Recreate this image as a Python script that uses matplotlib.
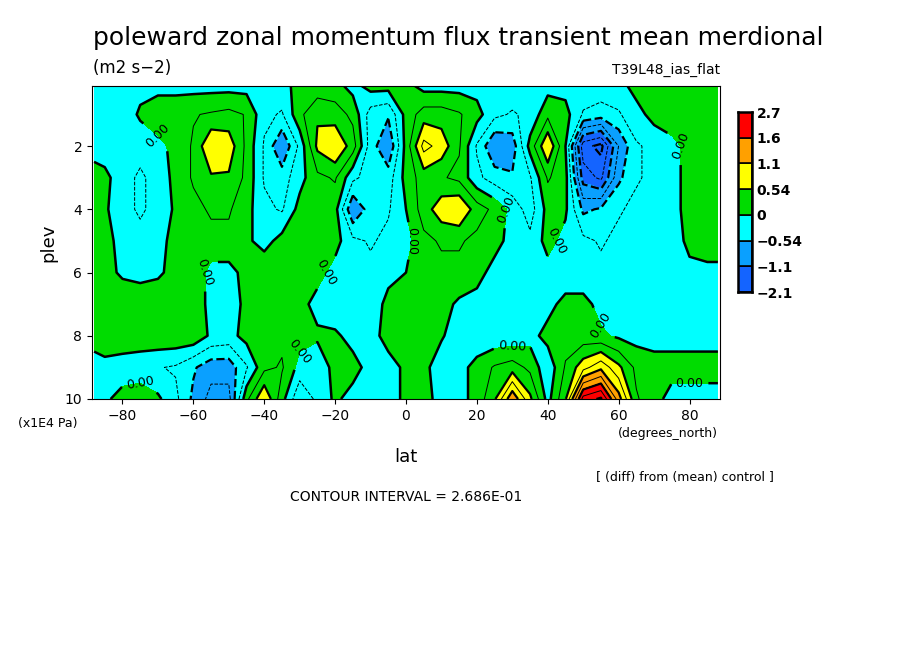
import numpy as np
import matplotlib
matplotlib.use("Agg")
import matplotlib.pyplot as plt

lats = [-88] + list(range(-85, 90, 5)) + [88]
plevs = [0.1, 1, 2, 3, 4, 5, 6, 7, 8, 9, 10]
r01 = [-0.1,-0.1,-0.1,-0.1,-0.1,-0.1,-0.1,-0.1,-0.1,-0.1,-0.1,-0.1,0.1,0.1,0.1,-0.1,0.1,0.1,0.1,
       -0.1,-0.1,-0.1,-0.1,-0.1,-0.1,-0.1,-0.1,-0.1,-0.1,-0.1,-0.1,0.1,0.1,0.1,0.1,0.1,0.1]
r1 = [-0.2,-0.2,-0.2,0.05,0.2,0.2,0.25,0.3,0.35,0.25,-0.2,-0.3,0.2,0.5,0.4,0.2,-0.4,-0.5,0.1,
      0.4,0.4,0.3,0.1,-0.2,-0.3,-0.2,0.2,0.1,-0.3,-0.4,-0.3,-0.1,0.1,0.2,0.2,0.2,0.2]
r2 = [-0.1,-0.2,-0.2,-0.2,-0.1,0.1,0.3,0.8,0.7,0.2,-0.3,-0.8,-0.2,0.6,0.8,0.4,-0.4,-0.8,0.1,
      0.9,0.7,0.3,-0.3,-0.8,-0.7,0.1,0.8,0.0,-1.5,-1.7,-0.8,-0.3,-0.2,-0.1,0.1,0.2,0.2]
r3 = [0.1,0.1,-0.2,-0.3,-0.2,0.1,0.3,0.5,0.5,0.2,-0.3,-0.4,-0.1,0.2,0.3,-0.2,-0.4,-0.4,0.1,
      0.4,0.3,0.2,-0.2,-0.4,-0.5,-0.3,0.3,0.1,-1.2,-1.4,-0.6,-0.3,-0.2,-0.1,0.1,0.1,0.1]
r4 = [0.1,0.05,-0.2,-0.3,-0.2,0.05,0.2,0.3,0.3,0.1,-0.2,-0.3,0.1,0.2,0.1,-0.8,-0.4,-0.3,0.0,
      0.4,0.7,0.8,0.4,0.2,-0.1,-0.4,0.1,0.05,-0.6,-0.5,-0.3,-0.2,-0.1,-0.1,0.1,0.1,0.1]
r5 = [0.1,0.1,-0.1,-0.2,-0.1,0.1,0.2,0.2,0.2,0.05,-0.1,0.1,0.2,0.2,0.1,-0.2,-0.3,-0.2,-0.1,
      0.2,0.3,0.3,0.2,0.1,-0.1,-0.2,0.1,-0.1,-0.2,-0.3,-0.2,-0.2,-0.1,-0.1,0.05,0.1,0.1]
r6 = [0.1,0.1,-0.05,-0.1,-0.05,0.1,0.2,-0.1,-0.1,0.1,0.2,0.2,0.2,0.1,-0.1,-0.2,-0.2,-0.1,0.0,
      0.1,0.2,0.2,0.1,-0.1,-0.2,-0.2,-0.1,-0.2,-0.2,-0.2,-0.2,-0.2,-0.2,-0.2,-0.05,-0.05,-0.05]
r7 = [0.1,0.2,0.2,0.2,0.2,0.2,0.2,-0.1,-0.2,0.1,0.2,0.2,0.1,-0.1,-0.2,-0.2,-0.2,0.1,0.05,
      0.05,0.1,-0.05,-0.1,-0.2,-0.2,-0.2,-0.1,0.1,0.1,-0.1,-0.2,-0.2,-0.2,-0.2,-0.2,-0.2,-0.2]
r8 = [0.1,0.2,0.2,0.2,0.2,0.2,0.2,-0.05,-0.1,0.1,0.2,0.2,0.1,0.05,0.05,-0.1,-0.1,0.1,0.1,
      0.05,0.02,-0.1,-0.2,-0.2,-0.2,-0.1,0.1,0.15,0.1,0.05,-0.05,-0.1,-0.1,-0.1,-0.1,-0.1,-0.1]
r9 = [-0.1,-0.1,-0.15,-0.2,-0.25,-0.3,-0.5,-0.7,-0.7,-0.3,0.2,0.3,-0.1,-0.2,0.1,0.1,-0.1,-0.1,0.05,
      0.05,-0.1,-0.1,0.1,0.3,0.4,0.2,-0.2,0.3,0.7,1.0,0.6,0.2,0.1,0.1,0.1,0.1,0.1]
r10 = [-0.1,-0.05,0.1,0.2,0.05,-0.2,-0.6,-0.9,-0.9,0.2,0.8,0.1,-0.5,-0.2,0.05,-0.1,-0.1,-0.1,0.05,
       0.1,-0.1,-0.1,0.1,0.5,1.3,0.6,-0.1,0.5,2.0,2.2,1.2,0.3,0.1,-0.1,-0.1,-0.1,-0.1]
data = np.array([r01, r1, r2, r3, r4, r5, r6, r7, r8, r9, r10])

bounds = [-2.1, -1.1, -0.54, 0, 0.54, 1.1, 1.6, 2.7]
bound_labels = ['\u22122.1', '\u22121.1', '\u22120.54', '0', '0.54', '1.1', '1.6', '2.7']
colors = ['#1464ff', '#0aa0ff', '#00ffff', '#00dc00', '#ffff00', '#ffa000', '#ff0000']
cint = 0.2686

fig = plt.figure(figsize=(9.04, 6.54), dpi=100)
W, H = 904, 654
ax = fig.add_axes([92/W, 1-399/H, 628/W, 313/H])
fillb = [-10, -1.1, -2*cint, 0, 2*cint, 1.1, 1.6, 10]
ax.contourf(lats, plevs, data, levels=fillb, colors=colors)
ks = [k for k in range(-10, 11) if k != 0]
for k in ks:
    ax.contour(lats, plevs, data, levels=[k*cint], colors='k',
               linewidths=1.6 if k % 2 == 0 else 0.7,
               linestyles='dashed' if k < 0 else 'solid')
cz = ax.contour(lats, plevs, data, levels=[0], colors='k', linewidths=1.8)
ax.clabel(cz, fmt='0.00', fontsize=9)
ax.set_xlim(-88.6, 88.6)
ax.set_ylim(10, 0.1)
ax.set_xticks([-80, -60, -40, -20, 0, 20, 40, 60, 80])
ax.set_yticks([2, 4, 6, 8, 10])
ax.tick_params(labelsize=10, direction='out')

cax = fig.add_axes([738/W, 1-292/H, 14/W, 180/H])
n = len(colors)
for i, c in enumerate(colors):
    cax.add_patch(plt.Rectangle((0, i), 1, 1, facecolor=c, edgecolor='k', lw=1.2))
cax.set_xlim(0, 1); cax.set_ylim(0, n)
cax.set_xticks([])
cax.set_yticks(range(n + 1))
cax.set_yticklabels(bound_labels, fontweight='bold')
cax.yaxis.tick_right()
cax.tick_params(length=0, labelsize=10)
for s in cax.spines.values():
    s.set_linewidth(1.8)

fig.text(93/W, 1-38/H, 'poleward zonal momentum flux transient mean merdional', fontsize=18, va='center')
fig.text(93/W, 1-68/H, '(m2 s\u22122)', fontsize=12, va='center')
fig.text(720/W, 1-70/H, 'T39L48_ias_flat', fontsize=10, va='center', ha='right')
fig.text(48/W, 1-243/H, 'plev', fontsize=13, rotation=90, va='center', ha='center')
fig.text(18/W, 1-424/H, '(x1E4 Pa)', fontsize=9, va='center')
fig.text(618/W, 1-434/H, '(degrees_north)', fontsize=9, va='center')
fig.text(406/W, 1-457/H, 'lat', fontsize=13, va='center', ha='center')
fig.text(596/W, 1-478/H, '[ (diff) from (mean) control ]', fontsize=9, va='center')
fig.text(406/W, 1-497/H, 'CONTOUR INTERVAL = 2.686E-01', fontsize=10, va='center', ha='center')
fig.savefig('out.png', dpi=100)
